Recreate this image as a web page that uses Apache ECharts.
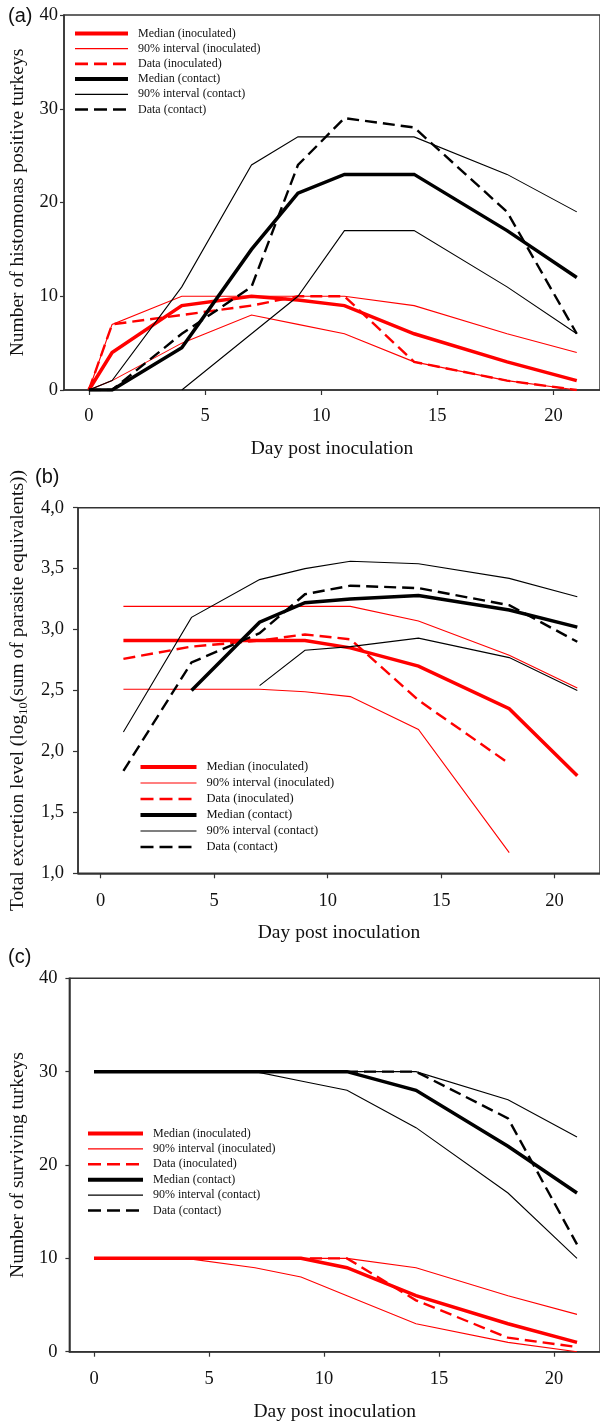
<!DOCTYPE html>
<html><head><meta charset="utf-8">
<script src="https://cdn.jsdelivr.net/npm/echarts@6/dist/echarts.min.js"></script>
<style>html,body{margin:0;padding:0;background:#fff}#c{width:600px;height:1423px}</style>
</head><body><div id="c"></div>
<script>
// ---- data ----
const days = [0, 1, 4, 7, 9, 11, 14, 18, 21];
const xTickValues = [0, 5, 10, 15, 20];
const seriesNames = ['Median (inoculated)', '90% interval (inoculated)', 'Data (inoculated)',
                     'Median (contact)', '90% interval (contact)', 'Data (contact)'];
const panelLabels = ['(a)', '(b)', '(c)'];
const xTitle = 'Day post inoculation';
const yTitleA = 'Number of histomonas positive turkeys';
const yTitleC = 'Number of surviving turkeys';

// (a) histomonas positive turkeys
const aMedInoc  = [0, 4, 9, 10, 9.6, 9, 6, 3, 1];
const aHiInoc   = [0, 7, 10, 10, 10, 10, 9, 6, 4];
const aLoInoc   = [0, 1, 5, 8, 7, 6, 3, 1, 0];
const aDataInoc = [0, 7, 8, 9, 10, 10, 3, 1, 0];
const aMedCont  = [0, 0, 4.5, 15, 21, 23, 23, 17, 12];
const aHiCont   = [0, 1, 11, 24, 27, 27, 27, 23, 19];
const aLoCont   = [null, null, 0, 6, 10, 17, 17, 11, 6];
const aDataCont = [0, 0, 6, 11, 24, 29, 28, 19, 6];

// (b) total excretion level (log10)
const bMedInoc  = [null, 2.91, 2.91, 2.91, 2.91, 2.85, 2.70, 2.35, 1.80];
const bHiInoc   = [null, 3.19, 3.19, 3.19, 3.19, 3.19, 3.07, 2.79, 2.52];
const bLoInoc   = [null, 2.51, 2.51, 2.51, 2.49, 2.45, 2.18, 1.17, null];
const bDataInoc = [null, 2.76, 2.86, 2.91, 2.96, 2.92, 2.42, 1.90, null];
const bMedCont  = [null, null, 2.50, 3.06, 3.22, 3.25, 3.28, 3.16, 3.02];
const bHiCont   = [null, 2.16, 3.10, 3.41, 3.50, 3.56, 3.54, 3.42, 3.27];
const bLoCont   = [null, null, null, 2.54, 2.83, 2.86, 2.93, 2.77, 2.50];
const bDataCont = [null, 1.84, 2.73, 2.97, 3.29, 3.36, 3.34, 3.20, 2.90];

// (c) surviving turkeys
const cMedInoc  = [10, 10, 10, 10, 10, 9, 6, 3, 1];
const cHiInoc   = [10, 10, 10, 10, 10, 10, 9, 6, 4];
const cLoInoc   = [10, 10, 10, 9, 8, 6, 3, 1, 0];
const cDataInoc = [10, 10, 10, 10, 10, 10, 5.5, 1.5, 0.5];
const cMedCont  = [30, 30, 30, 30, 30, 30, 28, 22, 17];
const cHiCont   = [30, 30, 30, 30, 30, 30, 30, 27, 23];
const cLoCont   = [30, 30, 30, 30, 29, 28, 24, 17, 10];
const cDataCont = [30, 30, 30, 30, 30, 30, 30, 25, 11.5];

// ---- chart ----
const SERIF = 'Liberation Serif, Times New Roman, serif';
const SANS = 'Liberation Sans, Arial, sans-serif';
const RED = '#ff0000', BLACK = '#000000', AXC = '#333333', TXT = '#111111';

function pairs(vals) {
  const out = [];
  vals.forEach((v, i) => { if (v !== null && v !== undefined) out.push([days[i], v]); });
  return out;
}
const styles = {
  med:  { width: 3.5, type: 'solid' },
  int:  { width: 1.1, type: 'solid' },
  data: { width: 2.4, type: [12, 6] }
};
function line(name, vals, kind, color, gi) {
  return {
    type: 'line', name: name, xAxisIndex: gi, yAxisIndex: gi,
    data: pairs(vals), symbol: 'none', silent: true, animation: false,
    lineStyle: { color: color, width: styles[kind].width, type: styles[kind].type, cap: 'butt', join: 'miter' },
    itemStyle: { color: color }
  };
}
function panelSeries(gi, mi, hi, lo, di, mc, hc, lc, dc) {
  return [
    line(seriesNames[0], mi, 'med', RED, gi),
    line(seriesNames[1], hi, 'int', RED, gi),
    line(seriesNames[1], lo, 'int', RED, gi),
    line(seriesNames[2], di, 'data', RED, gi),
    line(seriesNames[3], mc, 'med', BLACK, gi),
    line(seriesNames[4], hc, 'int', BLACK, gi),
    line(seriesNames[4], lc, 'int', BLACK, gi),
    line(seriesNames[5], dc, 'data', BLACK, gi)
  ];
}

const legendLine = [
  { color: RED, width: 4, type: 'solid' },
  { color: RED, width: 1.2, type: 'solid' },
  { color: RED, width: 2.6, type: [13, 6] },
  { color: BLACK, width: 4, type: 'solid' },
  { color: BLACK, width: 1.2, type: 'solid' },
  { color: BLACK, width: 2.6, type: [13, 6] }
];
function legend(left, top, fontSize, gap, itemWidth) {
  return {
    show: true, orient: 'vertical', left: left, top: top,
    itemWidth: itemWidth, itemHeight: 8, itemGap: gap, padding: 0,
    selectedMode: false,
    data: seriesNames.map((n, i) => ({
      name: n, lineStyle: legendLine[i],
      itemStyle: { color: 'rgba(0,0,0,0)', borderWidth: 0, opacity: 0 }
    })),
    textStyle: { fontFamily: SERIF, fontSize: fontSize, color: TXT, padding: [0, 0, 0, 5] }
  };
}

const grids = [
  { left: 62,   top: 15,    right: 0, height: 375 },
  { left: 76.5, top: 507.7, right: 0, height: 365.6 },
  { left: 63,   top: 978.3, right: 0, height: 373.4 }
].map(g => Object.assign(g, { show: true, borderColor: AXC, borderWidth: 1.5, backgroundColor: 'transparent' }));

const xMins = [-1.07, -1.0, -1.07];
const xLabelMargins = [17, 18.5, 18];
const xNameGaps = [49, 50, 50];
const xAxes = [0, 1, 2].map(i => ({
  type: 'value', gridIndex: i, min: xMins[i], max: 22,
  axisLine: { show: true, onZero: false, lineStyle: { color: AXC, width: 1.5 } },
  axisTick: { show: true, customValues: xTickValues, length: 5, lineStyle: { color: AXC, width: 1.2 } },
  axisLabel: { customValues: xTickValues, margin: xLabelMargins[i], fontFamily: SERIF, fontSize: 18.5, color: TXT },
  splitLine: { show: false },
  name: xTitle, nameLocation: 'middle', nameGap: xNameGaps[i],
  nameTextStyle: { fontFamily: SERIF, fontSize: 19.5, color: TXT }
}));

const yAxes = [
  { min: 0, max: 40, interval: 10, margin: 6, tick: 4, name: yTitleA, gap: 36,
    fmt: v => String(v) },
  { min: 1, max: 4, interval: 0.5, margin: 14, tick: 5, gap: 48,
    name: '{t|Total excretion level (log}{s|10}{t|(sum of parasite equivalents))}',
    fmt: v => v.toFixed(1).replace('.', ',') },
  { min: 0, max: 40, interval: 10, margin: 12, tick: 4, name: yTitleC, gap: 35,
    fmt: v => String(v) }
].map((y, i) => ({
  type: 'value', gridIndex: i, min: y.min, max: y.max, interval: y.interval,
  axisLine: { show: true, onZero: false, lineStyle: { color: AXC, width: 1.5 } },
  axisTick: { show: true, length: y.tick, lineStyle: { color: AXC, width: 1.2 } },
  axisLabel: { margin: y.margin, fontFamily: SERIF, fontSize: 18.5, color: TXT, formatter: y.fmt },
  splitLine: { show: false },
  name: y.name, nameLocation: 'middle', nameGap: y.gap, nameRotate: 90,
  nameTextStyle: {
    fontFamily: SERIF, fontSize: 19.5, color: TXT,
    rich: {
      t: { fontFamily: SERIF, fontSize: 19.5, color: TXT, lineHeight: 24 },
      s: { fontFamily: SERIF, fontSize: 12.5, color: TXT, lineHeight: 12, verticalAlign: 'bottom' }
    }
  }
}));

const option = {
  backgroundColor: '#ffffff',
  animation: false,
  grid: grids,
  xAxis: xAxes,
  yAxis: yAxes,
  legend: [
    legend(73, 27.5, 12, 3.2, 53),
    legend(138.5, 760.5, 12.5, 3, 56),
    legend(86, 1127.5, 12, 3.4, 55)
  ],
  graphic: [
    { type: 'text', left: 8, top: 6, style: { text: panelLabels[0], font: '20px ' + SANS, fill: TXT } },
    { type: 'text', left: 35, top: 467, style: { text: panelLabels[1], font: '20px ' + SANS, fill: TXT } },
    { type: 'text', left: 8, top: 947, style: { text: panelLabels[2], font: '20px ' + SANS, fill: TXT } }
  ],
  series: [].concat(
    panelSeries(0, aMedInoc, aHiInoc, aLoInoc, aDataInoc, aMedCont, aHiCont, aLoCont, aDataCont),
    panelSeries(1, bMedInoc, bHiInoc, bLoInoc, bDataInoc, bMedCont, bHiCont, bLoCont, bDataCont),
    panelSeries(2, cMedInoc, cHiInoc, cLoInoc, cDataInoc, cMedCont, cHiCont, cLoCont, cDataCont)
  )
};
const chart = echarts.init(document.getElementById('c'), null, { renderer: 'canvas' });
chart.setOption(option);
</script>
</body></html>
